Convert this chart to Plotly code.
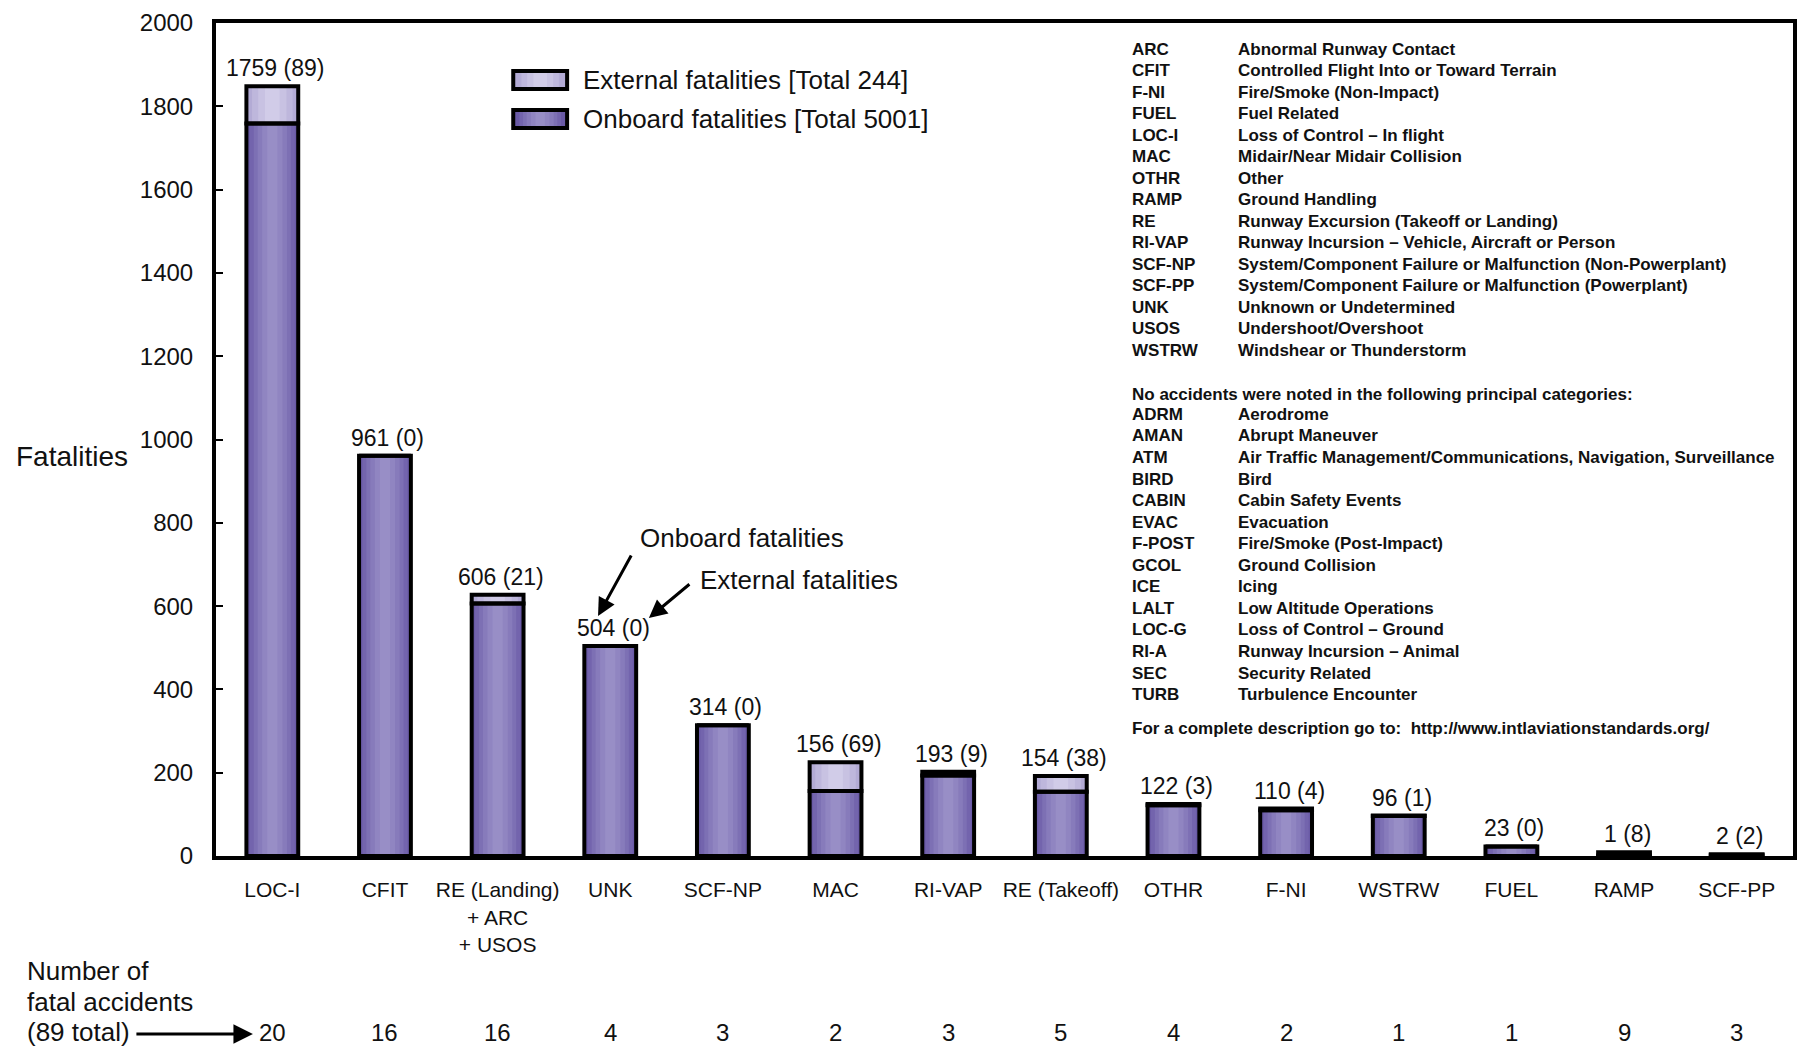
import plotly.graph_objects as go

# ---------------- data ----------------
categories = ["LOC-I", "CFIT", "RE (Landing)<br>+ ARC<br>+ USOS", "UNK", "SCF-NP", "MAC",
              "RI-VAP", "RE (Takeoff)", "OTHR", "F-NI", "WSTRW", "FUEL", "RAMP", "SCF-PP"]
onboard = [1759, 961, 606, 504, 314, 156, 193, 154, 122, 110, 96, 23, 1, 2]
external = [89, 0, 21, 0, 0, 69, 9, 38, 3, 4, 1, 0, 8, 2]
accidents = [20, 16, 16, 4, 3, 2, 3, 5, 4, 2, 1, 1, 9, 3]
y_ticks = [0, 200, 400, 600, 800, 1000, 1200, 1400, 1600, 1800, 2000]

defs_main = [("ARC", "Abnormal Runway Contact"),
             ("CFIT", "Controlled Flight Into or Toward Terrain"),
             ("F-NI", "Fire/Smoke (Non-Impact)"),
             ("FUEL", "Fuel Related"),
             ("LOC-I", "Loss of Control \u2013 In flight"),
             ("MAC", "Midair/Near Midair Collision"),
             ("OTHR", "Other"),
             ("RAMP", "Ground Handling"),
             ("RE", "Runway Excursion (Takeoff or Landing)"),
             ("RI-VAP", "Runway Incursion \u2013 Vehicle, Aircraft or Person"),
             ("SCF-NP", "System/Component Failure or Malfunction (Non-Powerplant)"),
             ("SCF-PP", "System/Component Failure or Malfunction (Powerplant)"),
             ("UNK", "Unknown or Undetermined"),
             ("USOS", "Undershoot/Overshoot"),
             ("WSTRW", "Windshear or Thunderstorm")]
defs_none = [("ADRM", "Aerodrome"),
             ("AMAN", "Abrupt Maneuver"),
             ("ATM", "Air Traffic Management/Communications, Navigation, Surveillance"),
             ("BIRD", "Bird"),
             ("CABIN", "Cabin Safety Events"),
             ("EVAC", "Evacuation"),
             ("F-POST", "Fire/Smoke (Post-Impact)"),
             ("GCOL", "Ground Collision"),
             ("ICE", "Icing"),
             ("LALT", "Low Altitude Operations"),
             ("LOC-G", "Loss of Control \u2013 Ground"),
             ("RI-A", "Runway Incursion \u2013 Animal"),
             ("SEC", "Security Related"),
             ("TURB", "Turbulence Encounter")]

# ---------------- layout geometry ----------------
W, H = 1800, 1048
L, R, T, B = 216, 1797, 23, 856
FONT = "Liberation Sans, Arial, sans-serif"
TXT = "#111111"


def px(xp):
    return (xp - L) / (R - L)


def py(yp):
    return (B - yp) / (B - T)


BAR_W = 0.46
onboard_layers = [(0.46, "#6A5AA6"), (0.40, "#7364AD"), (0.33, "#7D70B4"),
                  (0.26, "#877BBB"), (0.18, "#9085C1"), (0.09, "#988EC6")]
external_layers = [(0.46, "#B3ABD5"), (0.36, "#BEB7DC"), (0.25, "#C8C2E2"), (0.13, "#D1CCE8")]

fig = go.Figure()
for w, c in onboard_layers:
    fig.add_trace(go.Bar(x=categories, y=onboard, width=w, marker=dict(color=c, line=dict(width=0)),
                         showlegend=False, hoverinfo="skip"))
for w, c in external_layers:
    fig.add_trace(go.Bar(x=categories, y=external, base=onboard, width=w,
                         marker=dict(color=c, line=dict(width=0)), showlegend=False, hoverinfo="skip"))
# outlines
fig.add_trace(go.Bar(x=categories, y=onboard, width=BAR_W, name="Onboard fatalities",
                     marker=dict(color="rgba(0,0,0,0)", line=dict(color="black", width=4)),
                     showlegend=False))
fig.add_trace(go.Bar(x=categories, y=external, base=onboard, width=BAR_W, name="External fatalities",
                     marker=dict(color="rgba(0,0,0,0)", line=dict(color="black", width=4)),
                     showlegend=False))


def pa(x, y, text, size, xanchor="left", yanchor="middle", weight="normal"):
    return dict(x=px(x), y=py(y), xref="paper", yref="paper", text=text, showarrow=False,
                xanchor=xanchor, yanchor=yanchor,
                font=dict(size=size, color=TXT, family=FONT, weight=weight))


ann = []
# value labels above bars
for c, o, e in zip(categories, onboard, external):
    ann.append(dict(x=c, y=o + e, xref="x", yref="y", text=f"{o} ({e})", showarrow=False,
                    xanchor="center", yanchor="bottom", yshift=3, xshift=3,
                    font=dict(size=23, color=TXT, family=FONT)))
# accident counts row
for c, n in zip(categories, accidents):
    ann.append(dict(x=c, y=py(1032), xref="x", yref="paper", text=str(n), showarrow=False,
                    xanchor="center", yanchor="middle", font=dict(size=24, color=TXT, family=FONT)))
# Number of fatal accidents text
for t, yy in [("Number of", 971), ("fatal accidents", 1002), ("(89 total)", 1032)]:
    ann.append(pa(25, yy, t, 26))
ann.append(dict(x=px(253), y=py(1034), xref="paper", yref="paper", text="", showarrow=True,
                ax=-118, ay=0, arrowhead=2, arrowsize=1.3, arrowwidth=3, arrowcolor="black"))
# y title
ann.append(pa(72, 457, "Fatalities", 28, xanchor="center"))
# callouts
ann.append(pa(639, 538, "Onboard fatalities", 26))
ann.append(pa(699, 580, "External fatalities", 26))
ann.append(dict(x=px(599), y=py(616), xref="paper", yref="paper", text="", showarrow=True,
                ax=34, ay=-62, arrowhead=2, arrowsize=1.2, arrowwidth=3, arrowcolor="black"))
ann.append(dict(x=px(650), y=py(618), xref="paper", yref="paper", text="", showarrow=True,
                ax=42, ay=-35, arrowhead=2, arrowsize=1.2, arrowwidth=3, arrowcolor="black"))
# legend texts
ann.append(pa(582, 80, "External fatalities [Total 244]", 26))
ann.append(pa(582, 119, "Onboard fatalities [Total 5001]", 26))

# definitions
DFS = 17
DW = "bold"
ABX, DSX = 1132, 1239
for i, (a, d) in enumerate(defs_main):
    yy = 49.4 + i * 21.5
    ann.append(pa(ABX, yy, a, DFS, weight=DW))
    ann.append(pa(DSX, yy, d, DFS, weight=DW))
ann.append(pa(ABX, 394, "No accidents were noted in the following principal categories:", DFS, weight=DW))
for i, (a, d) in enumerate(defs_none):
    yy = 414.4 + i * 21.55
    ann.append(pa(ABX, yy, a, DFS, weight=DW))
    ann.append(pa(DSX, yy, d, DFS, weight=DW))
ann.append(pa(ABX, 728, "For a complete description go to:\u00a0\u00a0http://www.intlaviationstandards.org/",
              DFS, weight=DW))

# legend swatches (shapes)
shapes = []
for yc, layers in [(80, external_layers), (119, onboard_layers)]:
    x0, x1 = 514, 568
    y0, y1 = yc - 9, yc + 9
    shapes.append(dict(type="rect", xref="paper", yref="paper", x0=px(x0), x1=px(x1), y0=py(y1), y1=py(y0),
                       fillcolor=layers[0][1], line=dict(color="black", width=4)))
    for w, col in layers[1:]:
        frac = w / layers[0][0]
        half = (x1 - x0 - 6) / 2 * frac
        xc = (x0 + x1) / 2
        shapes.append(dict(type="rect", xref="paper", yref="paper", x0=px(xc - half), x1=px(xc + half),
                           y0=py(y1 - 2), y1=py(y0 + 2), fillcolor=col, line=dict(width=0)))

fig.update_layout(
    width=W, height=H,
    margin=dict(l=L, r=W - R, t=T, b=H - B, pad=0),
    barmode="overlay",
    paper_bgcolor="white", plot_bgcolor="white",
    font=dict(family=FONT, color=TXT),
    annotations=ann, shapes=shapes, showlegend=False,
    xaxis=dict(type="category", range=[-0.5, 13.5], showline=True, linewidth=4, linecolor="black",
               mirror=True, ticks="", showgrid=False, tickfont=dict(size=21, color=TXT, family=FONT),
               ticklabelstandoff=12),
    yaxis=dict(range=[0, 2000], tickvals=y_ticks, showline=True, linewidth=4, linecolor="black",
               mirror=True, ticks="inside", ticklen=7, tickwidth=2, tickcolor="black", showgrid=False,
               zeroline=False, tickfont=dict(size=24, color=TXT, family=FONT), ticklabelstandoff=14),
)

fig.write_html("out.html", config={"displayModeBar": False},
               post_script="document.body.style.margin='0px';document.body.style.overflow='hidden';")
